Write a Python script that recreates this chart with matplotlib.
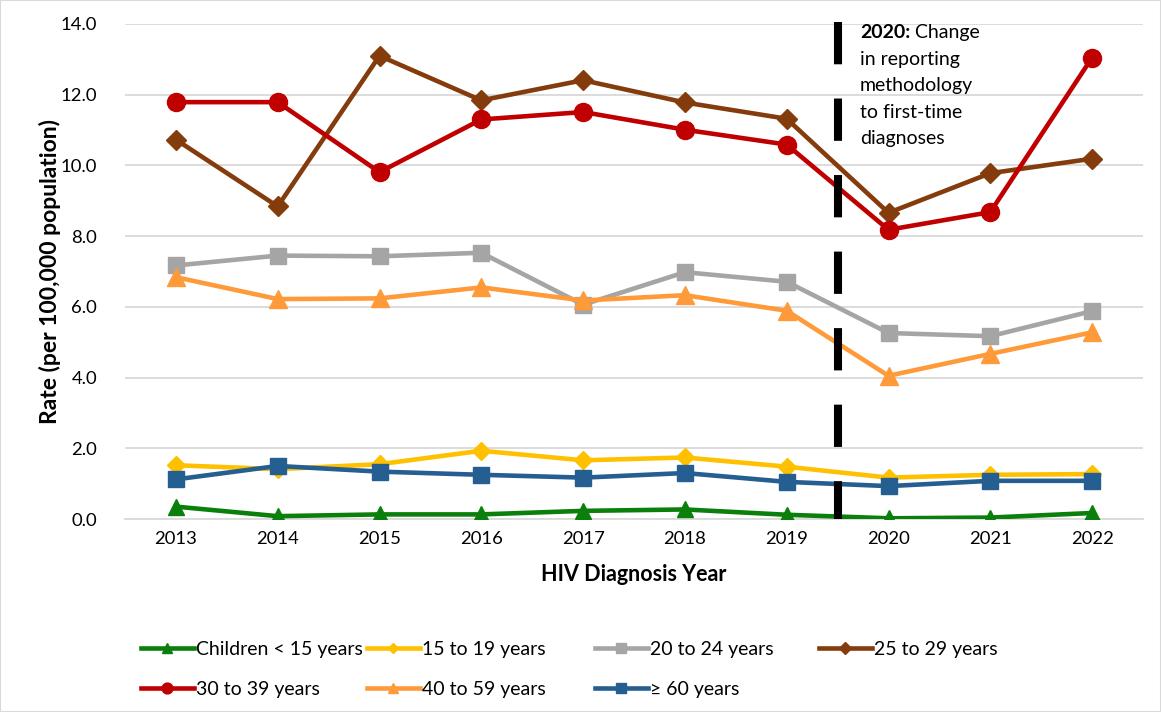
import matplotlib
matplotlib.use("Agg")
import matplotlib.pyplot as plt
from matplotlib.lines import Line2D
from matplotlib.patches import Rectangle

years = [2013, 2014, 2015, 2016, 2017, 2018, 2019, 2020, 2021, 2022]
children = [0.35, 0.08, 0.13, 0.13, 0.23, 0.27, 0.12, 0.02, 0.04, 0.17]
age15_19 = [1.52, 1.41, 1.55, 1.93, 1.66, 1.74, 1.48, 1.17, 1.25, 1.27]
age20_24 = [7.17, 7.45, 7.43, 7.53, 6.06, 6.98, 6.71, 5.26, 5.17, 5.88]
age25_29 = [10.73, 8.84, 13.10, 11.84, 12.41, 11.78, 11.32, 8.66, 9.78, 10.19]
age30_39 = [11.79, 11.79, 9.81, 11.30, 11.51, 11.01, 10.59, 8.18, 8.68, 13.05]
age40_59 = [6.84, 6.22, 6.24, 6.55, 6.18, 6.33, 5.89, 4.05, 4.67, 5.28]
age60 = [1.12, 1.50, 1.34, 1.25, 1.17, 1.30, 1.05, 0.93, 1.08, 1.08]

labels = ["Children < 15 years", "15 to 19 years", "20 to 24 years", "25 to 29 years",
          "30 to 39 years", "40 to 59 years", "\u2265 60 years"]
yticks = [0, 2, 4, 6, 8, 10, 12, 14]
note_lines = ["in reporting", "methodology", "to first-time", "diagnoses"]

FONT = ["Lato", "DejaVu Sans"]
plt.rcParams['font.family'] = FONT

fig = plt.figure(figsize=(11.61, 7.12), dpi=100)
ax = fig.add_axes([125/1161, 1 - 519/712, (1143-125)/1161, (519-24)/712])

series = [
    (children, "#0B7F0B", "^", 12),
    (age15_19, "#FFC000", "D", 9),
    (age20_24, "#A5A5A5", "s", 12),
    (age25_29, "#843C0C", "D", 10),
    (age30_39, "#C00000", "o", 13),
    (age40_59, "#FF9A3A", "^", 13),
    (age60, "#255E91", "s", 12),
]

handles = []
for (vals, color, marker, ms), lab in zip(series, labels):
    ax.plot(years, vals, color=color, lw=3.3, marker=marker, markersize=ms,
            markeredgecolor=color, label=lab, zorder=3)
    handles.append(Line2D([0], [0], color=color, lw=3.3, marker=marker,
                          markersize=ms * 0.6, markeredgecolor=color))

ax.set_xlim(2012.5, 2022.5)
ax.set_ylim(0, 14)
ax.set_xticks(years)
ax.set_xticklabels([str(y) for y in years], fontsize=13.3)
ax.set_yticks(yticks)
ax.set_yticklabels([f"{v:.1f}" for v in yticks], fontsize=13.3)
ax.tick_params(length=0, pad=9)
ax.tick_params(axis='y', pad=20)
ax.grid(axis='y', color="#D9D9D9", lw=1.3, zorder=0)
ax.set_axisbelow(True)
for s in ["top", "right", "left"]:
    ax.spines[s].set_visible(False)
ax.spines["bottom"].set_color("#D9D9D9")
ax.spines["bottom"].set_linewidth(1.3)

ax.set_xlabel("HIV Diagnosis Year", fontsize=15.5, fontweight="bold", labelpad=12)
ax.set_ylabel("Rate (per 100,000 population)", fontsize=16.5, fontweight="bold", labelpad=0)

# dashed change line
ax.plot([2019.5, 2019.5], [14.06, 0], color="black", lw=5.8, dashes=(5.25, 4.25),
        solid_capstyle="butt", dash_capstyle="butt", zorder=5, clip_on=False)

tx = 2019.72
t0 = ax.text(tx, 13.77, "2020:", fontsize=14, fontweight="bold", va="center", ha="left")
ax.annotate(" Change", xy=(1, 0), xycoords=t0, va="bottom", ha="left", fontsize=14)
for i, line in enumerate(note_lines):
    ax.text(tx, 13.0 - i * 0.745, line, fontsize=14, va="center", ha="left")

# legend: column-wise like Excel with equal spacing
cols = [[0, 4], [1, 5], [2, 6], [3]]
xs = [140, 366, 594, 818]
for ci, idxs in enumerate(cols):
    fig.legend([handles[i] for i in idxs], [labels[i] for i in idxs],
               loc="upper left", bbox_to_anchor=(xs[ci] / 1161 - 0.012, 1 - 626 / 712),
               frameon=False, fontsize=14, handlelength=2.75, handletextpad=0.1,
               labelspacing=1.2, borderpad=0.25)

fig.patches.append(Rectangle((0, 0), 1, 1, transform=fig.transFigure, fill=False,
                             edgecolor="#D9D9D9", lw=1.5))

fig.savefig("out.png", dpi=100)
